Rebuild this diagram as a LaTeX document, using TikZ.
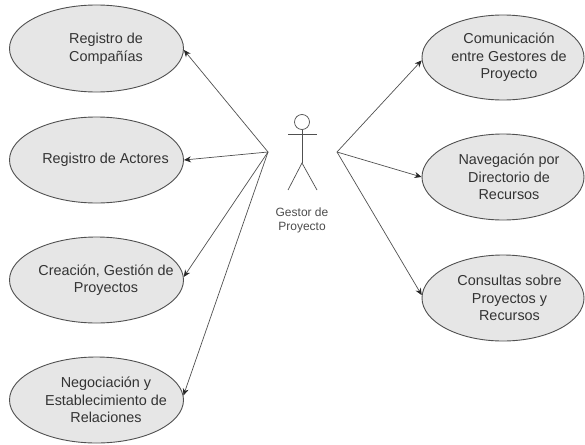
\documentclass[tikz,border=0pt]{standalone}
\usepackage{fontspec}
\setmainfont{Liberation Sans}
\usetikzlibrary{arrows.meta,shapes.geometric}
\definecolor{fillg}{HTML}{E6E6E6}
\definecolor{ln}{HTML}{505050}
\tikzset{
 x=1pt,y=-1pt,
 uc/.style={draw=ln,fill=fillg,ellipse,line width=0.9pt,inner sep=0pt},
 uctext/.style={align=center,inner sep=0pt,font=\fontsize{14.4pt}{17.6pt}\selectfont,text=black!80},
 link/.style={draw=ln,line width=0.7pt,-{Stealth[length=7pt,width=6pt,color=black!85]}},
 act/.style={draw=ln,line width=0.7pt}
}
\begin{document}
\begin{tikzpicture}
\useasboundingbox (0,0) rectangle (585,444);
\node[uc,minimum width=174pt,minimum height=87pt] (e1) at (96.5,48.5) {};
\node[uc,minimum width=174pt,minimum height=86pt] (e2) at (96.5,160) {};
\node[uc,minimum width=174pt,minimum height=86pt] (e3) at (96.5,280) {};
\node[uc,minimum width=174pt,minimum height=86pt] (e4) at (96.5,400) {};
\node[uc,minimum width=162pt,minimum height=85pt] (r1) at (503,57.5) {};
\node[uc,minimum width=162pt,minimum height=86pt] (r2) at (503,177) {};
\node[uc,minimum width=162pt,minimum height=86pt] (r3) at (503,298) {};
\node[uctext] (t1) at (106,49) {Registro de\\Compañías};
\node[uctext] (t2) at (105.5,160) {Registro de Actores};
\node[uctext] (t3) at (106,280) {Creación, Gestión de\\Proyectos};
\node[uctext] (t4) at (106,400) {Negociación y\\Establecimiento de\\Relaciones};
\node[uctext] (t5) at (509,57.5) {Comunicación\\entre Gestores de\\Proyecto};
\node[uctext] (t6) at (509,177) {Navegación por\\Directorio de\\Recursos};
\node[uctext] (t7) at (509.5,298) {Consultas sobre\\Proyectos y\\Recursos};
\coordinate (hl) at (268,152);
\coordinate (hr) at (337,152);
\draw[link] (hl) -- (e1.-1);
\draw[link] (hl) -- (e2.east);
\draw[link] (hl) -- (e3.2);
\draw[link] (hl) -- (e4.3);
\draw[link] (hr) -- (r1.182);
\draw[link] (hr) -- (r2.west);
\draw[link] (hr) -- (r3.178);
\node[circle,draw=ln,line width=0.7pt,minimum size=15pt,inner sep=0pt] (head) at (302,122) {};
\coordinate (hip) at (302,163);
\coordinate (al) at (288,134);
\coordinate (ar) at (317,134);
\coordinate (fl) at (288,190);
\coordinate (fr) at (317,190);
\draw[act] (head.south) -- (hip);
\draw[act] (al) -- (ar);
\draw[act] (fl) -- (hip) -- (fr);
\node[font=\fontsize{12pt}{14pt}\selectfont,align=center,text=black!70] (lab) at (302,220) {Gestor de\\Proyecto};
\end{tikzpicture}
\end{document}
